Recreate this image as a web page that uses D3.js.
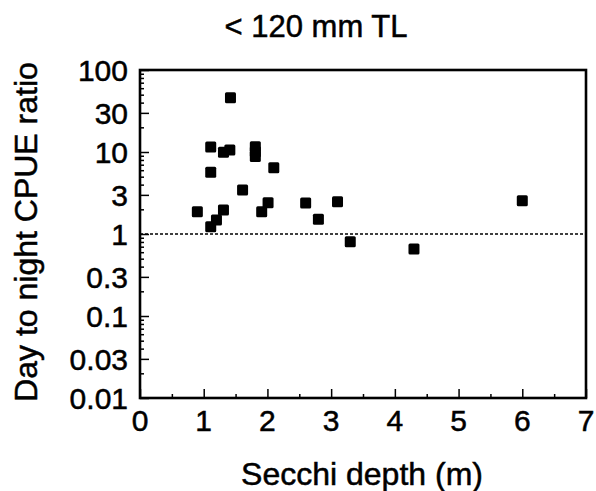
<!DOCTYPE html>
<html>
<head>
<meta charset="utf-8">
<script src="https://cdn.jsdelivr.net/npm/d3@7"></script>
<style>
  html, body { margin: 0; padding: 0; background: #fff; }
  svg text { font-family: "Liberation Sans", Arial, Helvetica, sans-serif; fill: #000; stroke: #000; stroke-width: 0.5; }
</style>
</head>
<body>
<svg id="chart" width="596" height="491"></svg>
<script>
// Data
const secchiDepth = [1.42, 1.11, 1.31, 1.41, 1.11, 1.81, 1.81, 1.81, 2.10, 1.61, 0.90, 1.11, 1.20, 1.31, 1.91, 2.01, 2.60, 2.80, 3.10, 3.30, 4.30, 6.00];
const cpueRatio   = [46,   11.5, 9.9,  10.6, 5.66, 11.6, 10.1, 8.8,  6.44, 3.44, 1.87, 1.23, 1.48, 1.96, 1.87, 2.41, 2.38, 1.51, 2.48, 0.805, 0.657, 2.55];
const xTicks = [0, 1, 2, 3, 4, 5, 6, 7];
const yTicks = [0.01, 0.03, 0.1, 0.3, 1, 3, 10, 30, 100];
const yTickLabels = ["0.01", "0.03", "0.1", "0.3", "1", "3", "10", "30", "100"];
const referenceRatio = 1;
const title = "< 120 mm TL";
const xTitle = "Secchi depth (m)";
const yTitle = "Day to night CPUE ratio";

const svg = d3.select("#chart");
const L = 140, R = 586, T = 70, B = 398;

const x = d3.scaleLinear().domain([0, 7]).range([L, R]);
const y = d3.scaleLog().domain([0.01, 100]).range([B, T]);

// minor ticks
const xMinor = d3.range(0.5, 7, 1);
const yMinor = [];
[0.01, 0.1, 1, 10].forEach(d => { for (let k = 2; k <= 9; k++) if (k !== 3) yMinor.push(d * k); });

// Axes (ticks inward)
const xAxis = d3.axisBottom(x).tickValues(xTicks).tickSize(-9).tickFormat("");
const yAxis = d3.axisLeft(y).tickValues(yTicks).tickSize(-9).tickFormat("");
const gx = svg.append("g").attr("transform", `translate(0,${B})`).call(xAxis);
const gy = svg.append("g").attr("transform", `translate(${L},0)`).call(yAxis);
const gxm = svg.append("g").attr("transform", `translate(0,${B})`).call(d3.axisBottom(x).tickValues(xMinor).tickSize(-4).tickFormat(""));
const gym = svg.append("g").attr("transform", `translate(${L},0)`).call(d3.axisLeft(y).tickValues(yMinor).tickSize(-4).tickFormat(""));
[gx, gy, gxm, gym].forEach(g => {
  g.select(".domain").remove();
  g.selectAll("line").attr("stroke", "#000").attr("stroke-width", 1.5);
});

// Tick labels
svg.append("g").selectAll("text").data(xTicks).join("text")
  .attr("x", d => x(d)).attr("y", 431)
  .attr("text-anchor", "middle").attr("font-size", 30)
  .text(d => d);
svg.append("g").selectAll("text").data(yTicks).join("text")
  .attr("x", 128).attr("y", d => y(d)).attr("dy", "0.36em")
  .attr("text-anchor", "end").attr("font-size", 30)
  .text((d, i) => yTickLabels[i]);

// Frame
svg.append("rect").attr("x", L).attr("y", T).attr("width", R - L).attr("height", B - T)
  .attr("fill", "none").attr("stroke", "#000").attr("stroke-width", 2.6);

// Reference line at ratio 1
svg.append("line")
  .attr("x1", L).attr("x2", R).attr("y1", y(referenceRatio)).attr("y2", y(referenceRatio))
  .attr("stroke", "#000").attr("stroke-width", 1.4).attr("stroke-dasharray", "3,2");

// Points
svg.append("g").selectAll("rect").data(secchiDepth.map((d, i) => [d, cpueRatio[i]])).join("rect")
  .attr("x", d => x(d[0]) - 5.5).attr("y", d => y(d[1]) - 5.5)
  .attr("width", 11).attr("height", 11).attr("rx", 1.5)
  .attr("fill", "#000");

// Titles
svg.append("text").attr("x", 316).attr("y", 37).attr("text-anchor", "middle")
  .attr("font-size", 31).text(title);
svg.append("text").attr("x", 362).attr("y", 485).attr("text-anchor", "middle")
  .attr("font-size", 32).text(xTitle);
svg.append("text").attr("transform", "translate(37,232) rotate(-90)")
  .attr("text-anchor", "middle").attr("font-size", 32).text(yTitle);
</script>
</body>
</html>
